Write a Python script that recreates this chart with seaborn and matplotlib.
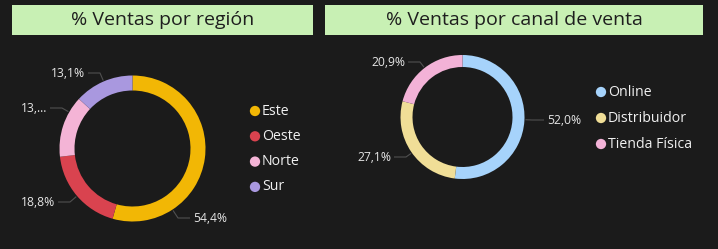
import math
import matplotlib
matplotlib.use("Agg")
import matplotlib.pyplot as plt
from matplotlib.patches import Rectangle
import seaborn as sns

# ---- data ----
region_labels = ["Este", "Oeste", "Norte", "Sur"]
region_values = [54.4, 18.8, 13.7, 13.1]
region_text = ["54,4%", "18,8%", "13,...", "13,1%"]
region_title = "% Ventas por región"

channel_labels = ["Online", "Distribuidor", "Tienda Física"]
channel_values = [52.0, 27.1, 20.9]
channel_text = ["52,0%", "27,1%", "20,9%"]
channel_title = "% Ventas por canal de venta"

region_colors = ["#f2b705", "#d9434f", "#f4b4d6", "#a998df"]
channel_colors = ["#a6d3fb", "#f0de97", "#f3b2d7"]

# ---- style ----
sns.set_theme(style="dark")
plt.rcParams['font.family'] = ['Open Sans', 'DejaVu Sans']
BG = "#1b1b1b"
W, H = 718, 249

fig = plt.figure(figsize=(W / 100, H / 100), dpi=100, facecolor=BG)
ax = fig.add_axes([0, 0, 1, 1])
ax.set_facecolor(BG)


def y(py):
    return H - py


def title_box(x0, x1, text):
    ax.add_patch(Rectangle((x0, y(35)), x1 - x0, 30, facecolor="#c8f0b4",
                           edgecolor="none", zorder=1))
    ax.text((x0 + x1) / 2, y(20), text, ha="center", va="center",
            fontsize=14, color="#1e1e1e", zorder=2)


def donut(values, colors, center, r, width):
    wedges, _ = ax.pie(values, colors=colors, startangle=90, counterclock=False,
                       radius=r, center=center, frame=True,
                       wedgeprops=dict(width=width, linewidth=0))
    return wedges


def labels(wedges, texts, positions, center, r):
    cx, cy = center
    for w, t, (tx, ty, ha) in zip(wedges, texts, positions):
        ty = y(ty)
        gap, seg = 3, 12
        if ha == "left":
            x0 = tx - gap
            x1 = x0 - seg
        else:
            x0 = tx + gap
            x1 = x0 + seg
        ang = math.degrees(math.atan2(ty - cy, x1 - cx))
        t1, t2 = min(w.theta1, w.theta2), max(w.theta1, w.theta2)
        a = (ang - t1) % 360 + t1
        m = 2
        if a > t2 - m:
            d2 = a - t2
            d1 = t1 + 360 - a
            a = t2 - m if d2 < d1 else t1 + m
        if a < t1 + m:
            a = t1 + m
        ar = math.radians(a)
        axp, ayp = cx + (r + 1) * math.cos(ar), cy + (r + 1) * math.sin(ar)
        ax.plot([x0, x1, axp], [ty, ty, ayp], color="#505050", lw=0.8,
                solid_capstyle="butt")
        ax.text(tx, ty, t, ha=ha, va="center", fontsize=8.7, color="#e6e6e6")


def legend(names, colors, x, y0, step):
    for i, (n, c) in enumerate(zip(names, colors)):
        yy = y(y0 + i * step)
        ax.scatter([x], [yy], s=55, color=c, edgecolors="none", zorder=3)
        ax.text(x + 7, yy, n, ha="left", va="center", fontsize=10.2,
                color="#f0f0f0")


# left panel
title_box(12, 313, region_title)
lc, lr = (132.5, y(148.5)), 73
lw = donut(region_values, region_colors, lc, lr, 15)
labels(lw, region_text,
       [(193, 218, "left"), (55, 202, "right"), (47, 108, "right"), (85, 73, "right")],
       lc, lr)
legend(region_labels, region_colors, 255, 111, 25.3)

# right panel
title_box(325, 703, channel_title)
rc, rr = (462.5, y(117)), 62
rw = donut(channel_values, channel_colors, rc, rr, 12)
labels(rw, channel_text,
       [(547, 120, "left"), (391, 157, "right"), (405, 62, "right")],
       rc, rr)
legend(channel_labels, channel_colors, 601, 92, 26)

ax.set_xlim(0, W)
ax.set_ylim(0, H)
ax.set_aspect("auto")
ax.axis("off")

fig.savefig("out.png", dpi=100, facecolor=BG)
